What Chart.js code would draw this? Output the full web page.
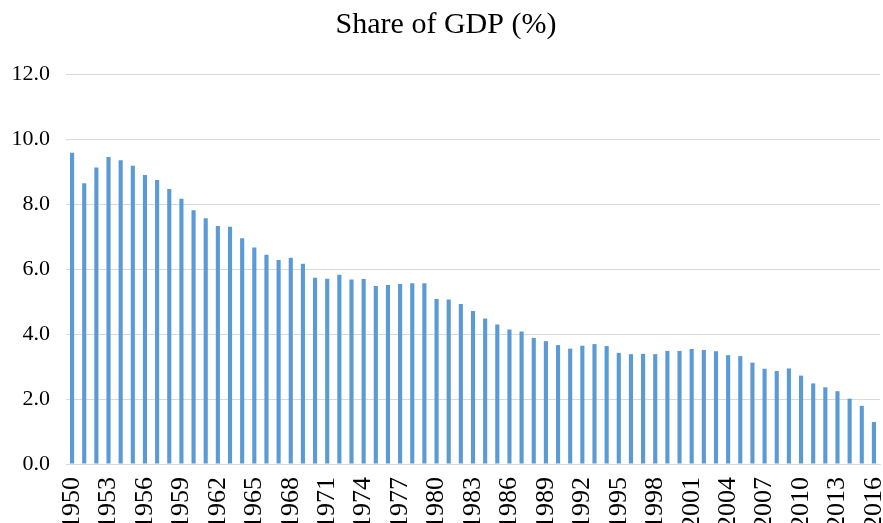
<!DOCTYPE html>
<html>
<head>
<meta charset="utf-8">
<script src="https://cdn.jsdelivr.net/npm/chart.js@4/dist/chart.umd.min.js"></script>
<style>
html,body{margin:0;padding:0;background:#fff;}
canvas{display:block;}
</style>
</head>
<body>
<canvas id="c" width="883" height="523"></canvas>
<script>
const chartTitle = "Share of GDP (%)";
const years = [];
for (let y = 1950; y <= 2016; y++) years.push(String(y));
const shareOfGDP = [
  9.58, 8.64, 9.12, 9.45, 9.35, 9.18, 8.89, 8.74, 8.46, 8.16,
  7.81, 7.56, 7.32, 7.30, 6.95, 6.66, 6.44, 6.28, 6.35, 6.16,
  5.73, 5.70, 5.82, 5.68, 5.69, 5.48, 5.51, 5.54, 5.56, 5.56,
  5.08, 5.06, 4.92, 4.71, 4.48, 4.29, 4.14, 4.08, 3.88, 3.78,
  3.66, 3.55, 3.64, 3.69, 3.63, 3.42, 3.38, 3.39, 3.38, 3.48,
  3.48, 3.54, 3.51, 3.47, 3.35, 3.32, 3.12, 2.93, 2.86, 2.94,
  2.72, 2.48, 2.36, 2.24, 2.01, 1.79, 1.29
];
const yTicks = [0, 2, 4, 6, 8, 10, 12];
const labelEvery = 3;

const font = "'Liberation Serif', 'Times New Roman', serif";

new Chart(document.getElementById('c'), {
  type: 'bar',
  data: {
    labels: years,
    datasets: [{
      data: shareOfGDP,
      backgroundColor: '#5B9BD5',
      borderWidth: 0,
      barPercentage: 0.34,
      categoryPercentage: 1.0
    }]
  },
  options: {
    responsive: false,
    animation: false,
    layout: { padding: { left: 12, right: 3, top: 0, bottom: 0 } },
    plugins: {
      legend: { display: false },
      tooltip: { enabled: false },
      title: {
        display: true,
        text: chartTitle,
        color: '#000',
        font: { family: font, size: 30, weight: 'normal', lineHeight: 1.2 },
        padding: { top: 7, bottom: 31 }
      }
    },
    scales: {
      x: {
        grid: { display: false, drawTicks: false },
        border: { display: true, color: '#d9d9d9', width: 1 },
        ticks: {
          autoSkip: false,
          maxRotation: 90,
          minRotation: 90,
          padding: 13,
          color: '#000',
          font: { family: font, size: 26 },
          callback: function (v, i) { return i % labelEvery === 0 ? years[i] : ''; }
        },
        afterFit: function (s) { s.height = 59; s.paddingLeft = 0; s.paddingRight = 0; }
      },
      y: {
        min: 0,
        max: 12,
        afterBuildTicks: function (s) { s.ticks = yTicks.map(v => ({ value: v })); },
        grid: { color: '#d9d9d9', lineWidth: 1, drawTicks: false },
        border: { display: false },
        ticks: {
          padding: 16,
          color: '#000',
          font: { family: font, size: 22 },
          callback: function (v) { return Number(v).toFixed(1); }
        },
        afterFit: function (s) { s.width = 54; }
      }
    }
  }
});
</script>
</body>
</html>
